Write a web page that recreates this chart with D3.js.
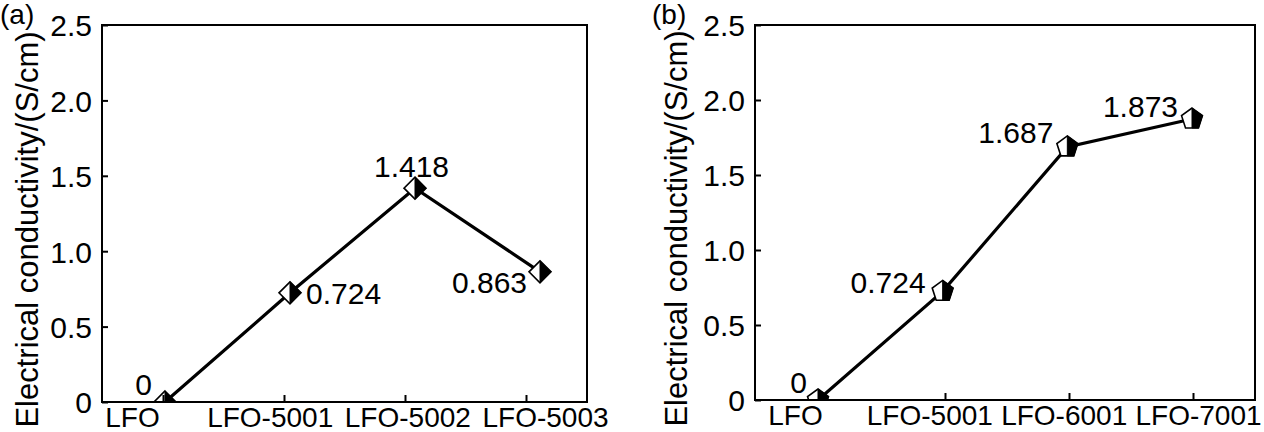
<!DOCTYPE html>
<html><head><meta charset="utf-8">
<script src="https://cdn.jsdelivr.net/npm/d3@7"></script>
<style>
body{margin:0;background:#fff;}
svg text{font-family:"Liberation Sans",Arial,Helvetica,sans-serif;fill:#000;}
</style>
</head><body>
<svg id="chart" width="1264" height="432"></svg>
<script>
// ---- data ----
const categoriesA = ["LFO", "LFO-5001", "LFO-5002", "LFO-5003"];
const valuesA = [0, 0.724, 1.418, 0.863];
const pointLabelsA = ["0", "0.724", "1.418", "0.863"];

const categoriesB = ["LFO", "LFO-5001", "LFO-6001", "LFO-7001"];
const valuesB = [0, 0.724, 1.687, 1.873];
const pointLabelsB = ["0", "0.724", "1.687", "1.873"];

const yTickValues = [0, 0.5, 1.0, 1.5, 2.0, 2.5];
const yTickLabels = ["0", "0.5", "1.0", "1.5", "2.0", "2.5"];
const yTitle = "Electrical conductivity/(S/cm)";
const panelTags = ["(a)", "(b)"];

// ---- layout ----
const FONT_TICK = 30, FONT_XLAB = 28, FONT_POINT = 30, FONT_TITLE = 31, FONT_TAG = 28;
const panels = [
  { tag: panelTags[0], cats: categoriesA, vals: valuesA, labels: pointLabelsA, shape: "diamond",
    frame: {l: 102, r: 587, t: 25, b: 402},
    tickRange: [163, 526], markRange: [165, 540], labelRange: [132, 545],
    titleX: 38, tagX: 0,
    labelOff: [[-13, -7, "end"], [16, 11, "start"], [-3.5, -11, "middle"], [-13, 21, "end"]] },
  { tag: panelTags[1], cats: categoriesB, vals: valuesB, labels: pointLabelsB, shape: "pentagon",
    frame: {l: 755, r: 1255, t: 25, b: 400},
    tickRange: [821, 1193], markRange: [818, 1192], labelRange: [795, 1198],
    titleX: 687, tagX: 652,
    labelOff: [[-11, -7, "end"], [-17, 2, "end"], [-14, -4, "end"], [-14, -2, "end"]] }
];

const svg = d3.select("#chart");

function shapePaths(shape) {
  if (shape === "diamond") {
    const r = 11;
    return {
      full: `M0,${-r}L${r},0L0,${r}L${-r},0Z`,
      half: `M0,${-r}L${r},0L0,${r}Z`
    };
  }
  const R = 11;
  const pts = d3.range(5).map(i => {
    const a = (-90 + i * 72) * Math.PI / 180;
    return [R * Math.cos(a), R * Math.sin(a)];
  });
  const full = "M" + pts.map(p => p.join(",")).join("L") + "Z";
  const bottomY = pts[2][1];
  const half = `M${pts[0][0]},${pts[0][1]}L${pts[1][0]},${pts[1][1]}L${pts[2][0]},${pts[2][1]}L0,${bottomY}Z`;
  return {full, half};
}

panels.forEach((p, pi) => {
  const g = svg.append("g");
  const f = p.frame;
  const xMark = d3.scalePoint().domain(p.cats).range(p.markRange);
  const xTick = d3.scalePoint().domain(p.cats).range(p.tickRange);
  const xLabel = d3.scalePoint().domain(p.cats).range(p.labelRange);
  const y = d3.scaleLinear().domain([0, 2.5]).range([f.b, f.t]);

  const data = p.cats.map((c, i) => ({c, v: p.vals[i], lab: p.labels[i], off: p.labelOff[i]}));

  const clipId = "clip" + pi;
  svg.append("clipPath").attr("id", clipId).append("rect")
    .attr("x", f.l).attr("y", f.t).attr("width", f.r - f.l).attr("height", f.b - f.t);

  const plot = g.append("g").attr("clip-path", `url(#${clipId})`);
  plot.append("path").datum(data)
    .attr("fill", "none").attr("stroke", "#000").attr("stroke-width", 3.2)
    .attr("d", d3.line().x(d => xMark(d.c)).y(d => y(d.v)));

  const sp = shapePaths(p.shape);
  const mk = plot.selectAll("g.mk").data(data).join("g")
    .attr("transform", d => `translate(${xMark(d.c)},${y(d.v)})`);
  mk.append("path").attr("d", sp.full).attr("fill", "#fff").attr("stroke", "#000").attr("stroke-width", 1.6);
  mk.append("path").attr("d", sp.half).attr("fill", "#000").attr("stroke", "#000").attr("stroke-width", 1);

  // frame
  g.append("rect").attr("x", f.l).attr("y", f.t).attr("width", f.r - f.l).attr("height", f.b - f.t)
    .attr("fill", "none").attr("stroke", "#000").attr("stroke-width", 2);

  // left axis
  const ya = g.append("g").attr("transform", `translate(${f.l},0)`)
    .call(d3.axisLeft(y).tickValues(yTickValues).tickSize(-6).tickSizeOuter(0).tickPadding(10)
      .tickFormat((d, i) => yTickLabels[i]));
  ya.select(".domain").remove();
  ya.selectAll(".tick line").attr("stroke", "#000").attr("stroke-width", 2);
  ya.selectAll(".tick text").attr("font-size", FONT_TICK).attr("font-family", null).attr("dy", "0.36em");

  // bottom ticks
  const xa = g.append("g").attr("transform", `translate(0,${f.b})`)
    .call(d3.axisBottom(xTick).tickSize(-7).tickSizeOuter(0).tickFormat(""));
  xa.select(".domain").remove();
  xa.selectAll(".tick line").attr("stroke", "#000").attr("stroke-width", 2);

  // bottom labels
  const xl = g.append("g").attr("transform", `translate(0,${f.b})`)
    .call(d3.axisBottom(xLabel).tickSize(0).tickSizeOuter(0).tickPadding(5));
  xl.select(".domain").remove();
  xl.selectAll(".tick text").attr("font-size", FONT_XLAB).attr("font-family", null);

  // point labels
  g.selectAll("text.pl").data(data).join("text").attr("class", "pl")
    .attr("x", d => xMark(d.c) + d.off[0]).attr("y", d => y(d.v) + d.off[1])
    .attr("text-anchor", d => d.off[2]).attr("font-size", FONT_POINT)
    .text(d => d.lab);

  // y title
  g.append("text")
    .attr("transform", `translate(${p.titleX},${(f.t + f.b) / 2 + 16}) rotate(-90)`)
    .attr("text-anchor", "middle").attr("font-size", FONT_TITLE)
    .text(yTitle);

  // panel tag
  g.append("text").attr("x", p.tagX).attr("y", 24).attr("font-size", FONT_TAG).text(p.tag);
});
</script>
</body></html>
